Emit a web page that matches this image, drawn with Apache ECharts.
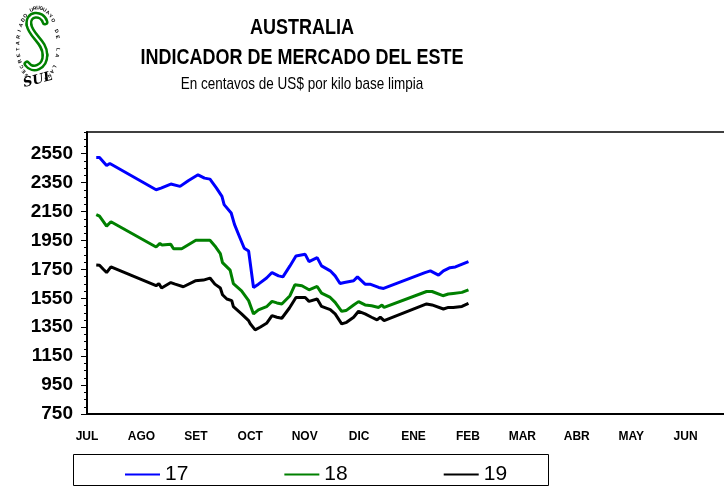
<!DOCTYPE html>
<html>
<head>
<meta charset="utf-8">
<title>Australia - Indicador de Mercado del Este</title>
<script src="https://cdn.jsdelivr.net/npm/echarts@6/dist/echarts.min.js"></script>
<style>
  html, body { margin: 0; padding: 0; background: #fff; }
  #chart { width: 724px; height: 495px; }
</style>
</head>
<body>
<div id="chart"></div>
<script>
// month labels of the season (x in month units, 0 = start of JUL)
const months = ['JUL', 'AGO', 'SET', 'OCT', 'NOV', 'DIC', 'ENE', 'FEB', 'MAR', 'ABR', 'MAY', 'JUN'];
const yTickLabels = [750, 950, 1150, 1350, 1550, 1750, 1950, 2150, 2350, 2550];

// 17 micras
const x17 = [0.17, 0.23, 0.36, 0.42, 1.27, 1.36, 1.54, 1.71, 1.86, 2.04, 2.16, 2.26, 2.38, 2.48, 2.52, 2.65, 2.71, 2.81, 2.89, 2.97,
  3.06, 3.15, 3.30, 3.40, 3.52, 3.60, 3.73, 3.84, 4.01, 4.08, 4.23, 4.31, 4.47, 4.56, 4.65, 4.73, 4.90, 4.97, 5.11, 5.20, 5.36, 5.45,
  6.21, 6.31, 6.46, 6.55, 6.67, 6.77, 7.01];
const val17 = [2523, 2523, 2468, 2482, 2301, 2312, 2340, 2324, 2363, 2404, 2381, 2374, 2312, 2255, 2198, 2140, 2061, 1969, 1896, 1877,
  1625, 1648, 1690, 1728, 1705, 1698, 1774, 1843, 1854, 1804, 1831, 1774, 1740, 1705, 1652, 1659, 1671, 1698, 1648, 1648, 1625, 1618,
  1728, 1740, 1710, 1740, 1762, 1767, 1804];

// 18 micras
const x18 = [0.17, 0.23, 0.36, 0.44, 1.27, 1.34, 1.38, 1.54, 1.59, 1.74, 2.00, 2.26, 2.35, 2.45, 2.49, 2.63, 2.69, 2.84, 2.97,
  3.06, 3.15, 3.30, 3.40, 3.49, 3.58, 3.73, 3.82, 3.95, 4.08, 4.23, 4.31, 4.47, 4.56, 4.68, 4.76, 4.90, 4.99, 5.11, 5.23, 5.36, 5.42, 5.46,
  6.24, 6.34, 6.54, 6.64, 6.73, 6.89, 7.01];
const val18 = [2129, 2118, 2049, 2079, 1905, 1930, 1918, 1923, 1893, 1893, 1951, 1951, 1912, 1859, 1797, 1745, 1652, 1602, 1534,
  1442, 1470, 1492, 1529, 1518, 1511, 1568, 1643, 1637, 1609, 1632, 1586, 1556, 1522, 1460, 1465, 1504, 1527, 1504, 1499, 1487, 1504, 1487,
  1597, 1597, 1568, 1580, 1584, 1591, 1609];

// 19 micras
const x19 = [0.17, 0.23, 0.30, 0.36, 0.44, 1.27, 1.32, 1.37, 1.54, 1.62, 1.77, 1.99, 2.14, 2.26, 2.35, 2.45, 2.49, 2.57, 2.66, 2.69, 2.84, 2.97,
  3.00, 3.09, 3.18, 3.30, 3.40, 3.49, 3.58, 3.72, 3.84, 4.01, 4.08, 4.23, 4.31, 4.47, 4.56, 4.68, 4.77, 4.90, 4.99, 5.11, 5.23, 5.33, 5.39, 5.46,
  6.24, 6.34, 6.55, 6.64, 6.73, 6.89, 7.01];
const val19 = [1781, 1779, 1751, 1728, 1767, 1637, 1652, 1621, 1659, 1648, 1630, 1671, 1676, 1690, 1648, 1621, 1575, 1545, 1534, 1492, 1442, 1396,
  1374, 1332, 1350, 1377, 1430, 1419, 1412, 1483, 1556, 1556, 1529, 1545, 1494, 1472, 1442, 1373, 1384, 1419, 1460, 1442, 1419, 1401, 1419, 1396,
  1511, 1504, 1476, 1487, 1487, 1494, 1515];

function pairs(xs, ys) {
  return xs.map((x, i) => [x, ys[i]]);
}

// logo: circular text round the SUL mark
const logoText = 'SECRETARIADO URUGUAYO DE LA LANA';
const logoParts = [];
const cx = 38, cy = 45, rx = 20, ry = 37;
const a0 = -145 * Math.PI / 180, a1 = 155 * Math.PI / 180;
for (let i = 0; i < logoText.length; i++) {
  const t = a0 + (a1 - a0) * i / (logoText.length - 1);
  logoParts.push({
    type: 'text',
    x: cx + rx * Math.sin(t),
    y: cy - ry * Math.cos(t),
    rotation: -t,
    style: {
      text: logoText[i],
      font: 'bold 5px Arial',
      fill: '#000',
      align: 'center',
      verticalAlign: 'middle'
    }
  });
}
// the green S, as three curves drawn twice (thick green, thin white core)
const sCurves = [
  [45, 22, 29, 25, 42, 12, 27, 13],
  [29, 25, 45, 55, 31, 36, 45, 42],
  [45, 55, 27, 64, 45, 67, 33, 72]
];
[[7, '#008000'], [2, '#fff']].forEach(([w, c]) => {
  sCurves.forEach(s => {
    logoParts.push({
      type: 'bezierCurve',
      shape: { x1: s[0], y1: s[1], x2: s[2], y2: s[3], cpx1: s[4], cpy1: s[5], cpx2: s[6], cpy2: s[7] },
      style: { stroke: c, lineWidth: w, fill: null, lineCap: 'round' }
    });
  });
});
logoParts.push({
  type: 'text',
  x: 38,
  y: 80,
  rotation: 0.25,
  style: {
    text: 'SUL',
    font: 'italic bold 13px "DejaVu Serif"',
    fill: '#000',
    align: 'center',
    verticalAlign: 'middle'
  }
});

const chart = echarts.init(document.getElementById('chart'));

const option = {
  animation: false,
  textStyle: { fontFamily: 'Arial, "Liberation Sans", sans-serif' },
  grid: {
    left: 87,
    top: 132,
    bottom: 81,
    right: -16,
    outerBoundsMode: 'none',
    containLabel: false,
    show: true,
    borderColor: '#000',
    borderWidth: 1.5
  },
  xAxis: {
    type: 'value',
    min: 0,
    max: 12,
    interval: 1,
    splitLine: { show: false },
    axisTick: { show: false },
    axisLine: { lineStyle: { color: '#000', width: 2 } },
    axisLabel: {
      margin: 17,
      color: '#000',
      fontSize: 12,
      fontWeight: 'bold',
      formatter: v => months[v] || ''
    }
  },
  yAxis: [
    {
      type: 'value',
      min: 750,
      max: 2700,
      interval: 50,
      splitLine: { show: false },
      axisLine: { show: true, lineStyle: { color: '#000', width: 2 } },
      axisTick: { show: true, length: 3, lineStyle: { color: '#000' } },
      axisLabel: {
        margin: 14,
        color: '#000',
        fontSize: 19,
        fontWeight: 'bold',
        formatter: v => yTickLabels.indexOf(v) >= 0 ? String(v) : ''
      }
    },
    {
      type: 'value',
      position: 'left',
      min: 750,
      max: 2700,
      splitLine: { show: false },
      axisLine: { show: false },
      axisLabel: { show: false },
      axisTick: { show: true, length: 6, customValues: yTickLabels, lineStyle: { color: '#000' } }
    }
  ],
  legend: {
    left: 125,
    top: 464,
    padding: 0,
    icon: 'rect',
    itemWidth: 35,
    itemHeight: 2,
    itemGap: 96,
    textStyle: { fontSize: 21, color: '#000' },
    data: ['17', '18', '19']
  },
  graphic: [
    {
      type: 'text',
      x: 302, y: 28, scaleY: 1.18,
      style: { text: 'AUSTRALIA', font: 'bold 18px Arial', fill: '#000', align: 'center', verticalAlign: 'middle' }
    },
    {
      type: 'text',
      x: 302, y: 58, scaleY: 1.18,
      style: { text: 'INDICADOR DE MERCADO DEL ESTE', font: 'bold 18px Arial', fill: '#000', align: 'center', verticalAlign: 'middle' }
    },
    {
      type: 'text',
      x: 302, y: 85, scaleY: 1.18,
      style: { text: 'En centavos de US$ por kilo base limpia', font: '13.5px Arial', fill: '#000', align: 'center', verticalAlign: 'middle' }
    },
    {
      type: 'rect',
      shape: { x: 73.5, y: 454.5, width: 475, height: 31 },
      style: { fill: null, stroke: '#000', lineWidth: 1 }
    },
    {
      type: 'group',
      children: logoParts
    }
  ],
  series: [
    {
      name: '17', type: 'line', data: pairs(x17, val17), showSymbol: false,
      lineStyle: { color: '#0000ff', width: 3 }, itemStyle: { color: '#0000ff' }
    },
    {
      name: '18', type: 'line', data: pairs(x18, val18), showSymbol: false,
      lineStyle: { color: '#008000', width: 3 }, itemStyle: { color: '#008000' }
    },
    {
      name: '19', type: 'line', data: pairs(x19, val19), showSymbol: false,
      lineStyle: { color: '#000000', width: 3 }, itemStyle: { color: '#000000' }
    }
  ]
};

chart.setOption(option);
</script>
</body>
</html>
